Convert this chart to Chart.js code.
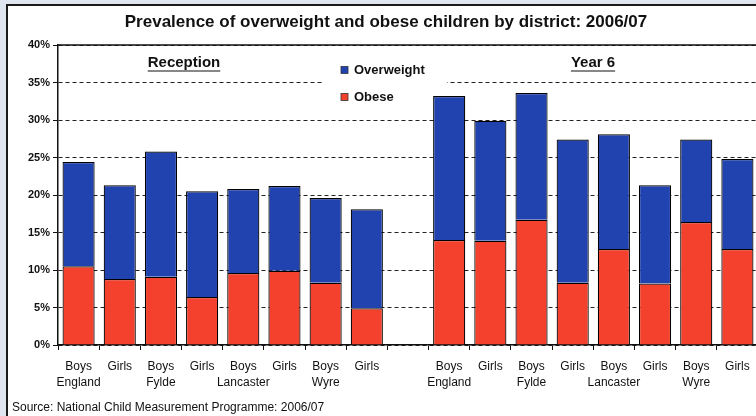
<!DOCTYPE html>
<html>
<head>
<meta charset="utf-8">
<script src="https://cdn.jsdelivr.net/npm/chart.js@4/dist/chart.umd.min.js"></script>
<style>
    body { margin: 0; width: 756px; height: 416px; overflow: hidden; background: #dfe6ef; position: relative; }
    .frame { position: absolute; left: 6px; top: 4px; width: 900px; height: 600px; border: 2px solid #1a1a1a; background: #fff; }
    .chart-box { position: absolute; left: 0; top: 0; width: 772px; height: 416px; }
</style>
</head>
<body>
<div class="frame"></div>
<div class="chart-box"><canvas id="prevalenceChart"></canvas></div>
<script>
// Readings from the picture, % of children
const sexes = ['Boys', 'Girls', 'Boys', 'Girls', 'Boys', 'Girls', 'Boys', 'Girls'];
const districts = ['England', '', 'Fylde', '', 'Lancaster', '', 'Wyre', ''];

const obeseReception = [10.5, 8.8, 9.1, 6.4, 9.6, 9.9, 8.3, 4.9];
const overweightReception = [13.9, 12.5, 16.7, 14.1, 11.2, 11.3, 11.3, 13.2];

const obeseYear6 = [14.0, 13.9, 16.7, 8.3, 12.8, 8.2, 16.4, 12.8];
const overweightYear6 = [19.2, 16.0, 16.9, 19.1, 15.3, 13.1, 11.0, 12.0];

const yTicks = [0, 5, 10, 15, 20, 25, 30, 35, 40];

const FONT = 'Arial, "Liberation Sans", sans-serif';

// one empty slot between the two school years
const labels = [
    ...sexes.map((s, i) => districts[i] ? [s, districts[i]] : s),
    '',
    ...sexes.map((s, i) => districts[i] ? [s, districts[i]] : s)
];
const obeseData = [...obeseReception, null, ...obeseYear6];
const overweightData = [...overweightReception, null, ...overweightYear6];

const BLUE = '#2143b0';
const RED = '#f4412d';

const extrasPlugin = {
    id: 'extras',
    beforeDatasetsDraw(chart) {
        // legend background hides the gridlines behind it
        const ctx = chart.ctx;
        ctx.save();
        ctx.fillStyle = '#fff';
        ctx.fillRect(323, 56, 124, 52);
        ctx.restore();
    },
    afterDraw(chart) {
        const ctx = chart.ctx;
        const area = chart.chartArea;
        ctx.save();

        // solid top edge of plot
        ctx.strokeStyle = '#111';
        ctx.lineWidth = 1.5;
        ctx.beginPath();
        ctx.moveTo(area.left, area.top);
        ctx.lineTo(area.right, area.top);
        ctx.stroke();

        // group headings
        ctx.fillStyle = '#111';
        ctx.font = `bold 15px ${FONT}`;
        ctx.textAlign = 'center';
        ctx.textBaseline = 'middle';
        [['Reception', 184], ['Year 6', 593]].forEach(([txt, x]) => {
            ctx.fillText(txt, x, 63);
            const w = ctx.measureText(txt).width;
            ctx.lineWidth = 1.2;
            ctx.beginPath();
            ctx.moveTo(x - w / 2, 71);
            ctx.lineTo(x + w / 2, 71);
            ctx.stroke();
        });

        // legend
        ctx.font = `bold 13px ${FONT}`;
        ctx.textAlign = 'left';
        [['Overweight', BLUE, 70], ['Obese', RED, 97]].forEach(([txt, col, y]) => {
            ctx.fillStyle = col;
            ctx.fillRect(341, y - 3.5, 7, 7);
            ctx.strokeStyle = '#333';
            ctx.lineWidth = 0.8;
            ctx.strokeRect(341, y - 3.5, 7, 7);
            ctx.fillStyle = '#111';
            ctx.fillText(txt, 354, y);
        });

        // source note
        ctx.font = `12px ${FONT}`;
        ctx.fillText('Source: National Child Measurement Programme: 2006/07', 12, 408);
        ctx.restore();
    }
};

new Chart(document.getElementById('prevalenceChart').getContext('2d'), {
    type: 'bar',
    data: {
        labels: labels,
        datasets: [{
            label: 'Obese',
            data: obeseData,
            backgroundColor: RED,
            borderColor: '#000',
            borderWidth: 1.2,
            categoryPercentage: 1,
            barPercentage: 0.78
        }, {
            label: 'Overweight',
            data: overweightData,
            backgroundColor: BLUE,
            borderColor: '#000',
            borderWidth: 1.2,
            categoryPercentage: 1,
            barPercentage: 0.78
        }]
    },
    options: {
        responsive: true,
        maintainAspectRatio: false,
        animation: false,
        layout: { padding: { left: 14, right: 14, top: 0, bottom: 26 } },
        plugins: {
            legend: { display: false },
            tooltip: { enabled: false },
            title: {
                display: true,
                text: 'Prevalence of overweight and obese children by district: 2006/07',
                color: '#111',
                font: { family: FONT, size: 17, weight: 'bold', lineHeight: 1.2 },
                padding: { top: 12, bottom: 12.6 }
            }
        },
        scales: {
            x: {
                stacked: true,
                afterFit: (scale) => { scale.height = 45; },
                grid: {
                    display: true,
                    drawOnChartArea: false,
                    drawTicks: true,
                    tickLength: 5,
                    color: '#111',
                    offset: true
                },
                border: { display: true, color: '#111', width: 1.5 },
                ticks: {
                    color: '#111',
                    maxRotation: 0,
                    autoSkip: false,
                    padding: 9,
                    font: { family: FONT, size: 12, lineHeight: 1.3 }
                }
            },
            y: {
                stacked: true,
                min: 0,
                max: 40,
                afterFit: (scale) => { scale.width = 44; },
                afterBuildTicks: (scale) => { scale.ticks = yTicks.map(v => ({ value: v })); },
                grid: {
                    color: '#222',
                    lineWidth: 1,
                    tickLength: 5,
                    tickColor: '#111'
                },
                border: { display: true, color: '#111', width: 1.5, dash: [4, 3] },
                ticks: {
                    color: '#111',
                    padding: 3,
                    font: { family: FONT, size: 11, weight: 'bold' },
                    callback: (val) => val + '%'
                }
            }
        }
    },
    plugins: [extrasPlugin]
});
</script>
</body>
</html>
